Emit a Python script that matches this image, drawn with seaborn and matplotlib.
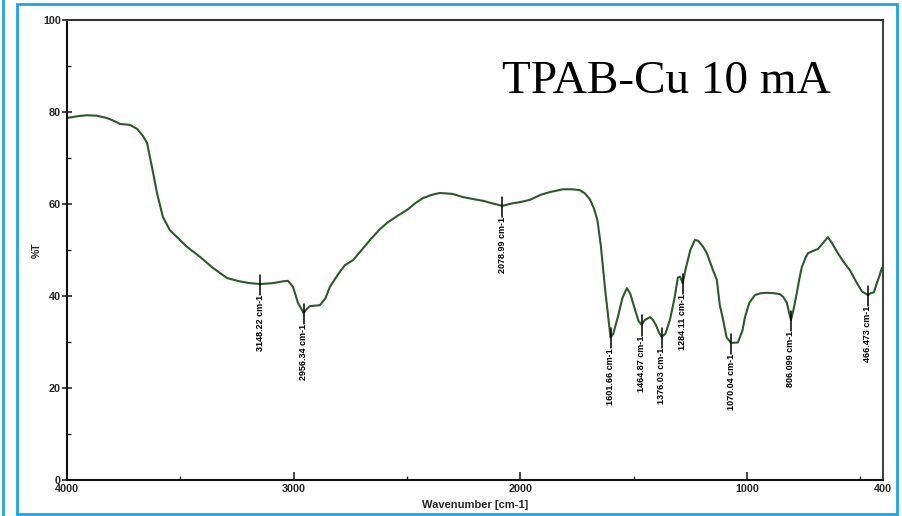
import numpy as np
import pandas as pd
import matplotlib
matplotlib.use("Agg")
import matplotlib.pyplot as plt
import seaborn as sns
from matplotlib.patches import Rectangle
from matplotlib.lines import Line2D
from matplotlib.ticker import MultipleLocator, FixedLocator

# ---- data ----
wavenumber = [4000, 3950, 3912, 3870, 3824, 3790, 3766, 3722, 3690, 3665, 3647, 3625,
              3603, 3577, 3546, 3502, 3471, 3413, 3356, 3294, 3240, 3193, 3148, 3091,
              3045, 3025, 3003, 2981, 2956, 2940, 2928, 2884, 2860, 2840, 2800, 2774,
              2738, 2700, 2663, 2620, 2588, 2540, 2500, 2460, 2429, 2390, 2355, 2300,
              2253, 2200, 2165, 2120, 2079, 2040, 2002, 1958, 1910, 1869, 1812, 1770,
              1737, 1715, 1693, 1675, 1660, 1645, 1636, 1625, 1614, 1602, 1590, 1570,
              1550, 1530, 1515, 1494, 1478, 1465, 1450, 1428, 1415, 1400, 1388, 1376,
              1360, 1340, 1320, 1305, 1295, 1284, 1270, 1250, 1230, 1215, 1195, 1177,
              1150, 1133, 1120, 1106, 1090, 1070, 1040, 1020, 1009, 990, 965, 940,
              912, 880, 855, 840, 824, 815, 806, 795, 780, 770, 758, 740,
              731, 700, 687, 665, 643, 625, 599, 575, 546, 515, 493, 466,
              455, 440, 427, 415, 405, 400]
transmittance = [78.7, 79.1, 79.3, 79.2, 78.7, 78.0, 77.4, 77.2, 76.3, 74.8, 73.3, 68.0,
                 62.4, 57.2, 54.3, 52.2, 50.7, 48.5, 46.1, 43.9, 43.2, 42.8, 42.6, 42.8,
                 43.2, 43.3, 42.0, 38.5, 36.3, 37.3, 37.8, 38.0, 39.5, 42.0, 45.0, 46.7,
                 47.8, 50.0, 52.2, 54.5, 55.9, 57.5, 58.7, 60.3, 61.3, 62.0, 62.4, 62.2,
                 61.5, 61.0, 60.7, 60.1, 59.6, 60.1, 60.4, 60.9, 62.0, 62.6, 63.2, 63.2,
                 63.0, 62.3, 61.0, 59.0, 56.5, 51.0, 46.5, 41.0, 36.3, 31.0, 31.8, 35.4,
                 39.5, 41.7, 40.5, 37.0, 34.5, 33.8, 34.8, 35.4, 34.8, 33.5, 32.0, 31.1,
                 31.8, 34.8, 39.5, 44.0, 44.2, 42.8, 46.0, 50.0, 52.2, 52.0, 50.8, 49.3,
                 45.6, 43.5, 38.0, 35.0, 31.0, 29.8, 29.9, 32.5, 35.4, 38.5, 40.2, 40.6,
                 40.7, 40.6, 40.4, 39.8, 38.5, 36.5, 34.8, 37.0, 40.7, 43.5, 46.3, 48.5,
                 49.3, 50.0, 50.2, 51.5, 52.8, 51.5, 49.3, 47.5, 45.6, 42.8, 41.0, 40.2,
                 40.6, 40.8, 42.8, 44.5, 46.1, 46.2]

peak_wn = [3148.22, 2956.34, 2078.99, 1601.66, 1464.87, 1376.03, 1284.11, 1070.04, 806.099, 466.473]
peak_labels = ["3148.22 cm-1", "2956.34 cm-1", "2078.99 cm-1", "1601.66 cm-1", "1464.87 cm-1",
               "1376.03 cm-1", "1284.11 cm-1", "1070.04 cm-1", "806.099 cm-1", "466.473 cm-1"]

x_major = [4000, 3000, 2000, 1000, 400]
x_major_labels = ["4000", "3000", "2000", "1000", "400"]
y_major = [0, 20, 40, 60, 80, 100]

title_text = "TPAB-Cu 10 mA"
x_title = "Wavenumber [cm-1]"
y_title = "%T"

# ---- figure ----
sns.set_style("white")
plt.rcParams["font.family"] = ["Liberation Sans", "DejaVu Sans"]

W, H = 902, 516
fig = plt.figure(figsize=(W / 100, H / 100), dpi=100)
ax = fig.add_axes([67 / W, 1 - 480 / H, (883 - 67) / W, (480 - 20) / H])

df = pd.DataFrame({"wn": wavenumber, "T": transmittance})
sns.lineplot(data=df, x="wn", y="T", ax=ax, color="#2c5a2a", linewidth=1.5,
             sort=False, estimator=None)

ax.set_xlim(4000, 400)
ax.set_ylim(0, 100)

# peak markers and labels
for wn, lab in zip(peak_wn, peak_labels):
    val = float(np.interp(wn, wavenumber[::-1], transmittance[::-1]))
    ax.plot([wn, wn], [val + 2.0, val - 2.4], color="black", linewidth=1.1)
    ax.text(wn, val - 2.4, lab, rotation=90, ha="center", va="top",
            fontsize=6.5, color="black", fontweight="semibold")

# ticks
ax.xaxis.set_major_locator(FixedLocator(x_major))
ax.set_xticklabels(x_major_labels)
ax.xaxis.set_minor_locator(FixedLocator([3500, 2500, 1500, 500]))
ax.yaxis.set_major_locator(FixedLocator(y_major))
ax.yaxis.set_minor_locator(MultipleLocator(10))
ax.tick_params(axis="x", which="major", direction="in", length=6, width=1.2,
               labelsize=7.8, pad=3, bottom=True)
ax.tick_params(axis="x", which="minor", direction="in", length=3, width=1.0, bottom=True)
ax.tick_params(axis="y", which="major", direction="inout", length=7, width=1.2,
               labelsize=7.8, pad=1, left=True)
ax.tick_params(axis="y", which="minor", direction="in", length=3, width=1.0, left=True)
for lbl in ax.get_xticklabels() + ax.get_yticklabels():
    lbl.set_fontweight("semibold")

for side in ["left", "bottom", "top", "right"]:
    ax.spines[side].set_visible(True)
    ax.spines[side].set_color("#111111")
    ax.spines[side].set_linewidth(1.5)
ax.spines["top"].set_color("#333333")
ax.spines["right"].set_color("#444444")

ax.set_xlabel(x_title, fontsize=8, labelpad=4, fontweight="semibold")
ax.set_ylabel(y_title, fontsize=7.5, labelpad=1, fontweight="semibold")

# title inside
fig.text(502 / W, 1 - 93 / H, title_text, fontsize=34, family="Liberation Serif",
         ha="left", va="baseline", color="black")

# blue frames
blue = "#1ba6e3"
fig.add_artist(Rectangle((17 / W, 1 - 514 / H), (897 - 17) / W, (514 - 4) / H,
                         transform=fig.transFigure, fill=False, edgecolor=blue,
                         linewidth=2.0))
fig.add_artist(Line2D([3 / W, 3 / W], [0, 1], transform=fig.transFigure,
                      color=blue, linewidth=2.0))

fig.savefig("out.png", dpi=100)
